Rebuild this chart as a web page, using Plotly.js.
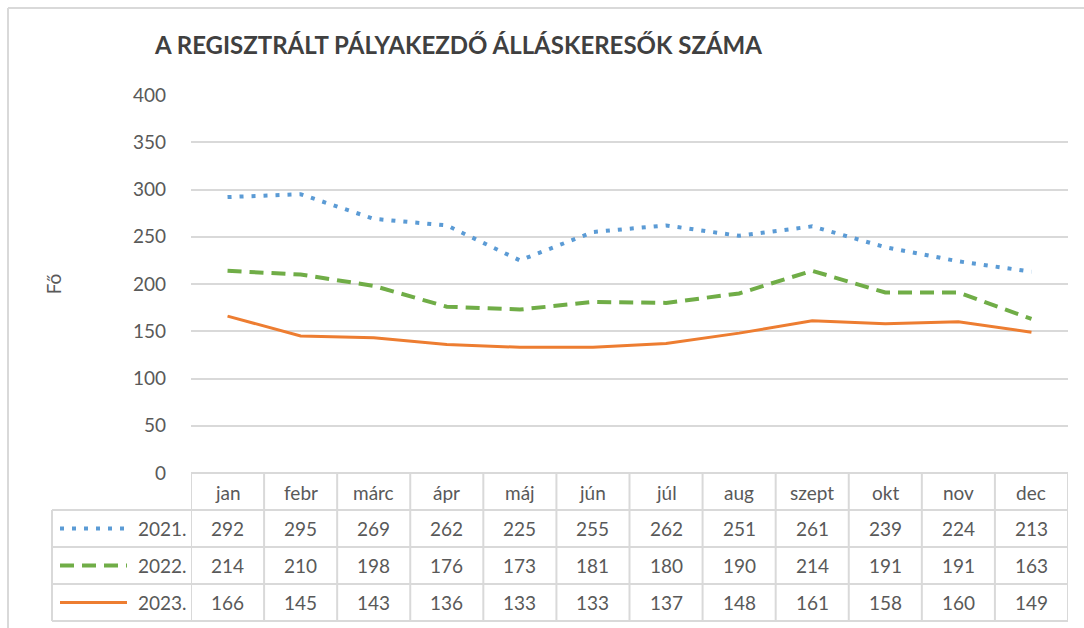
<!DOCTYPE html>
<html>
<head>
<meta charset="utf-8">
<script src="https://cdn.plot.ly/plotly-3.0.1.min.js"></script>
<style>html,body{margin:0;padding:0;background:#fff}#chart{width:1084px;height:628px}</style>
</head>
<body>
<div id="chart"></div>
<script>
const months = ["jan","febr","márc","ápr","máj","jún","júl","aug","szept","okt","nov","dec"];
const seriesNames = ["2021.","2022.","2023."];
const v2021 = [292,295,269,262,225,255,262,251,261,239,224,213];
const v2022 = [214,210,198,176,173,181,180,190,214,191,191,163];
const v2023 = [166,145,143,136,133,133,137,148,161,158,160,149];
const yTicks = [0,50,100,150,200,250,300,350,400];

const allValues = [v2021, v2022, v2023];
const colors = ["#5B9BD5","#70AD47","#ED7D31"];
const dashes = ["4px,8px","14px,8px","solid"];
const widths = [4,4,3];
const idx = months.map((m,i)=>i);

const FONT = "Lato, 'Open Sans', sans-serif";
const TXT = "#595959";
const GRID = "#D9D9D9";

const traces = allValues.map((vals,k)=>({
  type:"scatter", mode:"lines", x:idx, y:vals, name:seriesNames[k],
  line:{color:colors[k], dash:dashes[k], width:widths[k]}, showlegend:false, hoverinfo:"y"
}));

// table geometry (paper coords)
const rowLines = [0,-0.0979,-0.1958,-0.2937,-0.3915];
const rowCenters = [-0.0503,-0.1468,-0.2447,-0.3426];
const legLeft = -0.1585;

const shapes = [];
const annotations = [];
rowLines.forEach((y,i)=>{
  shapes.push({type:"line", xref:"paper", yref:"paper", x0:(i===0?0:legLeft), x1:1, y0:y, y1:y, line:{color:GRID,width:2}});
});
for(let i=0;i<=months.length;i++){
  shapes.push({type:"line", xref:"x", yref:"paper", x0:i-0.5, x1:i-0.5, y0:0, y1:rowLines[4], line:{color:GRID,width:2}});
}
shapes.push({type:"line", xref:"paper", yref:"paper", x0:legLeft, x1:legLeft, y0:rowLines[1], y1:rowLines[4], line:{color:GRID,width:2}});
// chart outer border (left/top)
shapes.push({type:"line", xref:"paper", yref:"paper", x0:(8-191)/877, x1:(8-191)/877, y0:(473-8)/378, y1:-0.45, line:{color:GRID,width:2}});
shapes.push({type:"line", xref:"paper", yref:"paper", x0:(8-191)/877, x1:1.1, y0:(473-8)/378, y1:(473-8)/378, line:{color:GRID,width:2}});

const cellFont = {family:FONT,size:19,color:TXT};
months.forEach((m,i)=>{
  annotations.push({x:i, y:rowCenters[0], xref:"x", yref:"paper", xanchor:"center", yanchor:"middle", text:m, showarrow:false, font:cellFont});
});
allValues.forEach((vals,k)=>{
  vals.forEach((v,i)=>{
    annotations.push({x:i, y:rowCenters[k+1], xref:"x", yref:"paper", xanchor:"center", yanchor:"middle", text:String(v), showarrow:false, font:cellFont});
  });
  annotations.push({x:(189-191)/877, y:rowCenters[k+1], xref:"paper", yref:"paper", xanchor:"right", yanchor:"middle", text:seriesNames[k], showarrow:false, font:cellFont});
  shapes.push({type:"line", xref:"paper", yref:"paper", x0:(60-191)/877, x1:(127-191)/877, y0:rowCenters[k+1], y1:rowCenters[k+1], line:{color:colors[k], dash:dashes[k], width:widths[k]}});
});

const layout = {
  width:1084, height:628,
  margin:{l:191, r:16, t:95, b:155},
  paper_bgcolor:"#fff", plot_bgcolor:"#fff",
  title:{text:"<b>A REGISZTRÁLT PÁLYAKEZDŐ ÁLLÁSKERESŐK SZÁMA</b>", x:155/1084, xanchor:"left", y:1-46/628, yanchor:"middle", font:{family:FONT,size:24,color:"#404040"}},
  xaxis:{type:"linear", range:[-0.5,11.5], showticklabels:false, showgrid:false, zeroline:false, showline:false, ticks:"", fixedrange:true},
  yaxis:{range:[0,400], tickvals:yTicks, ticktext:yTicks.map(String), showgrid:true, gridcolor:GRID, gridwidth:2, zeroline:false, showline:false, ticks:"", ticklen:0, tickfont:{family:FONT,size:19,color:TXT}, ticklabelstandoff:24,
    title:{text:"Fő", font:{family:FONT,size:19,color:TXT}, standoff:66}},
  shapes:shapes, annotations:annotations, showlegend:false
};
Plotly.newPlot("chart", traces, layout, {displayModeBar:false, staticPlot:true});
</script>
</body>
</html>
